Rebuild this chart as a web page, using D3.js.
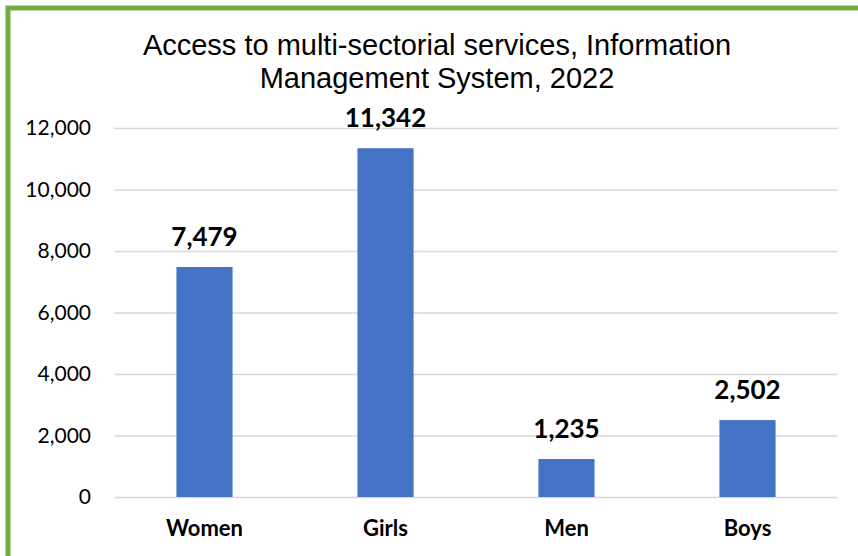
<!DOCTYPE html>
<html>
<head>
<meta charset="utf-8">
<script src="https://cdn.jsdelivr.net/npm/d3@7"></script>
<style>
  body { margin: 0; background: #fff; }
  svg { display: block; }
</style>
</head>
<body>
<div id="chart"></div>
<script>
// chart data
const categories = ["Women", "Girls", "Men", "Boys"];
const values = [7479, 11342, 1235, 2502];
const yTicks = [0, 2000, 4000, 6000, 8000, 10000, 12000];
const titleLines = ["Access to multi-sectorial services, Information", "Management System, 2022"];

const W = 858, H = 556;
const margin = { top: 128, right: 20, bottom: 59, left: 114 },
  width = 838 - margin.left,
  height = 497 - margin.top;

const svg = d3.select("#chart")
  .append("svg")
  .attr("width", W)
  .attr("height", H);

// green frame (cropped at right and bottom)
svg.append("rect")
  .attr("x", 8)
  .attr("y", 8)
  .attr("width", W + 20)
  .attr("height", H + 20)
  .attr("fill", "none")
  .attr("stroke", "#70AD47")
  .attr("stroke-width", 5);

// title
svg.append("text")
  .attr("text-anchor", "middle")
  .style("font-family", "'Liberation Sans', Arial, sans-serif")
  .style("font-size", "29px")
  .style("fill", "#000")
  .selectAll("tspan")
  .data(titleLines)
  .join("tspan")
  .attr("x", 437)
  .attr("y", (d, i) => 55 + i * 33)
  .text(d => d);

const g = svg.append("g")
  .attr("transform", `translate(${margin.left},${margin.top})`);

const x = d3.scaleBand()
  .domain(categories)
  .range([0, width])
  .paddingInner(0.69)
  .paddingOuter(0.345);

const y = d3.scaleLinear()
  .domain([0, 12000])
  .range([height, 0]);

// gridlines + y tick labels
const yAxis = g.append("g")
  .call(d3.axisLeft(y)
    .tickValues(yTicks)
    .tickSize(-width)
    .tickPadding(23)
    .tickFormat(d3.format(",")));
yAxis.select(".domain").remove();
yAxis.selectAll(".tick line")
  .attr("stroke", "#D9D9D9")
  .attr("stroke-width", 1.5);
yAxis.selectAll(".tick text")
  .style("font-family", "Lato, 'Open Sans', sans-serif")
  .style("font-size", "21px")
  .style("fill", "#000");

// bars
g.selectAll(".bar")
  .data(values)
  .join("rect")
  .attr("class", "bar")
  .attr("x", (d, i) => x(categories[i]))
  .attr("y", d => y(d))
  .attr("width", x.bandwidth())
  .attr("height", d => height - y(d))
  .attr("fill", "#4472C4");

// data labels
g.selectAll(".label")
  .data(values)
  .join("text")
  .attr("class", "label")
  .attr("x", (d, i) => x(categories[i]) + x.bandwidth() / 2)
  .attr("y", d => y(d) - 21)
  .attr("text-anchor", "middle")
  .style("font-family", "Lato, 'Open Sans', sans-serif")
  .style("font-weight", "bold")
  .style("font-size", "26px")
  .style("fill", "#000")
  .text(d => d3.format(",")(d));

// category labels
const xAxis = g.append("g")
  .attr("transform", `translate(0,${height})`)
  .call(d3.axisBottom(x).tickSize(0).tickPadding(0));
xAxis.select(".domain").remove();
xAxis.selectAll(".tick text")
  .attr("y", 39)
  .attr("dy", 0)
  .style("font-family", "Lato, 'Open Sans', sans-serif")
  .style("font-weight", "bold")
  .style("font-size", "22px")
  .style("fill", "#000");
</script>
</body>
</html>
